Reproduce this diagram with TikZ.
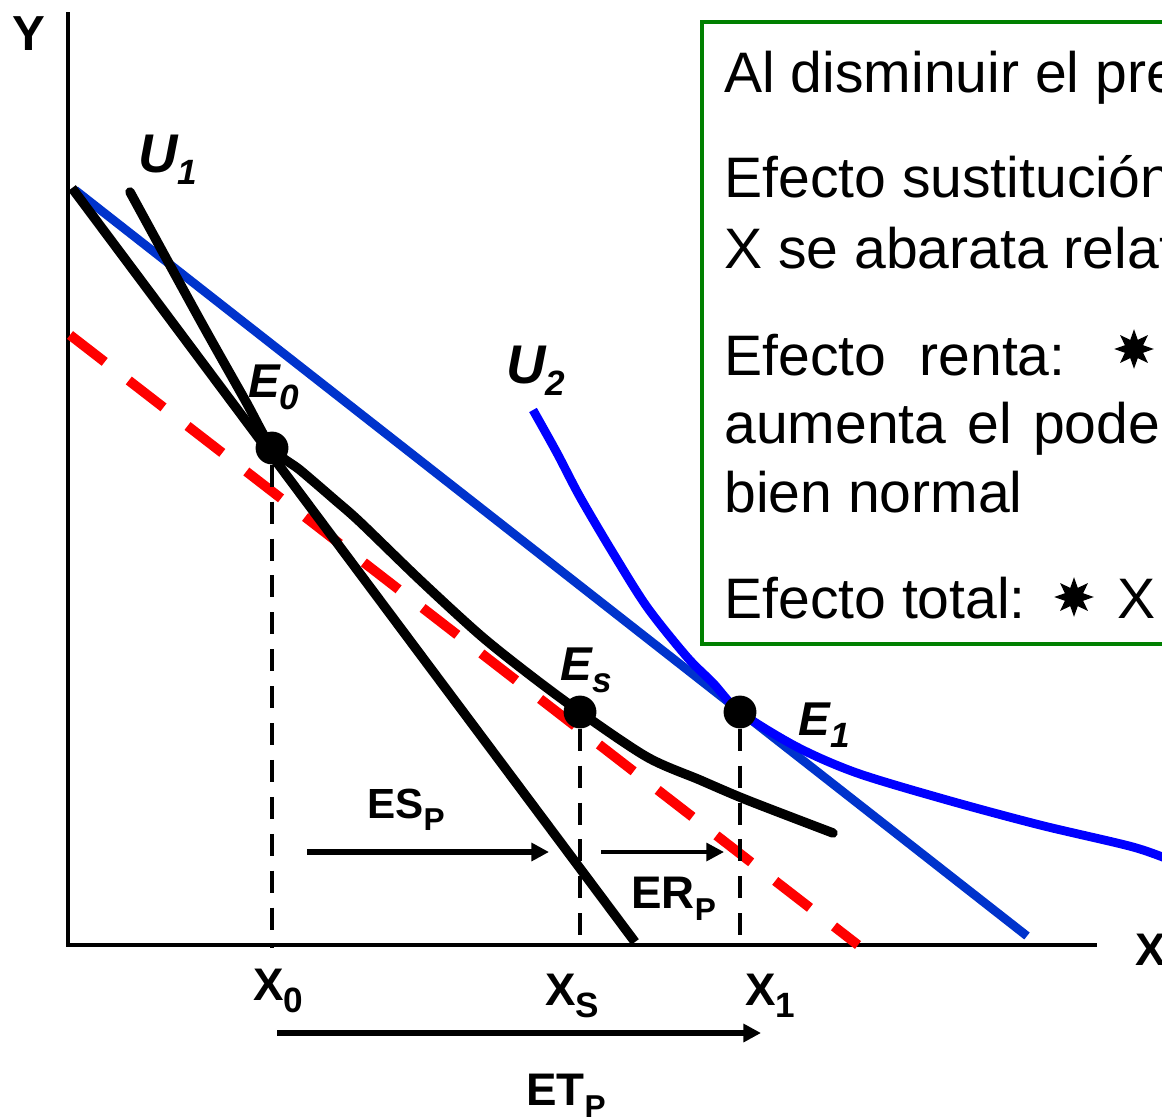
\documentclass[tikz,border=0pt]{standalone}
\usepackage{fontspec}
\setmainfont{Liberation Sans}
\usepackage{tikz}
\usetikzlibrary{
  arrows.meta,
  positioning,
  shapes.geometric
}
\definecolor{budgetblue}{RGB}{0,51,204}
\definecolor{utilblue}{RGB}{0,0,255}
\definecolor{boxgreen}{RGB}{0,128,0}
\newcommand{\lsub}[2][18]{\raisebox{-7pt}{\fontsize{#1}{#1}\selectfont #2}}

\begin{document}
\begin{tikzpicture}[x=0.02cm, y=-0.02cm,
  axis/.style={line width=2.6pt},
  curve/.style={line width=5.4pt, line cap=round, line join=round},
  guide/.style={line width=2.7pt, dash pattern=on 12.5pt off 8.5pt},
  shift/.style={-{Triangle[length=10pt,width=10pt]}, line width=#1},
  dot/.style={circle, fill=black, inner sep=0pt, minimum size=18.7pt},
  lbl/.style={font=\bfseries\fontsize{26}{26}\selectfont, inner sep=0pt, anchor=base west},
  ilbl/.style={font=\bfseries\itshape\fontsize{27}{27}\selectfont, inner sep=0pt, anchor=base west},
  boxtext/.style={font=\fontsize{32.5}{38}\selectfont, inner sep=0pt, anchor=base west},
  starmark/.style={star, star points=8, star point ratio=2, fill=black, inner sep=0pt, minimum size=22.5pt}
]
  \useasboundingbox (0,0) rectangle (1162,1119);
  \clip (0,0) rectangle (1162,1119);

  % Axes
  \coordinate (ytop) at (68,12);
  \coordinate (origin) at (68,945);
  \coordinate (xend) at (1097,945);
  \draw[axis] (ytop) -- (origin) -- (xend);
  \node[lbl, font=\bfseries\fontsize{28}{28}\selectfont] (ylab) at (12,50) {Y};
  \node[lbl] (xlab) at (1135,965) {X};

  % Budget lines
  \coordinate (r0) at (70,335);
  \coordinate (r1) at (858,945);
  \draw[red, line width=5.6pt, dash pattern=on 25pt off 17.3pt] (r0) -- (r1);
  \coordinate (b0) at (75,190);
  \coordinate (b1) at (1027,936);
  \draw[budgetblue, line width=5pt] (b0) -- (b1);
  \coordinate (k0) at (72,188);
  \coordinate (k1) at (635,942);
  \draw[curve, line cap=butt] (k0) -- (k1);

  % Indifference curves
  \draw[curve] plot[smooth, tension=0.5] coordinates {
    (130,192) (200,320) (245,400) (272,448) (300,470) (335,500) (360,522)
    (420,580) (480,635) (530,675) (580,712) (647,757) (700,780)
    (747,800) (833,833)};
  \draw[curve, utilblue, line width=5pt, line cap=butt] plot[smooth, tension=0.5] coordinates {
    (533,410) (557,453) (580,497) (613,553) (647,607) (687,657) (713,683)
    (740,712) (797,747) (857,773) (947,800) (1040,825) (1133,847) (1175,862)};
  \node[ilbl, font=\bfseries\itshape\fontsize{31}{31}\selectfont] (u1) at (138,172) {U\lsub[20]{1}};
  \node[ilbl, font=\bfseries\itshape\fontsize{31}{31}\selectfont] (u2) at (506,383) {U\lsub[20]{2}};

  % Equilibria
  \node[dot] (E0) at (272,448) {};
  \node[dot] (Es) at (580,712) {};
  \node[dot] (E1) at (740,712) {};
  \node[ilbl] (e0lab) at (248,397) {E\lsub[20]{0}};
  \node[ilbl] (eslab) at (560,680) {E\lsub[20]{s}};
  \node[ilbl] (e1lab) at (798,735) {E\lsub[20]{1}};

  % Guides down to the axis
  \coordinate (x0) at (272,948);
  \coordinate (xs) at (580,948);
  \coordinate (x1) at (740,948);
  \draw[guide] (E0) -- (x0);
  \draw[guide] (Es) -- (xs);
  \draw[guide] (E1) -- (x1);
  \node[lbl] (x0lab) at (253,1000) {X\lsub[20]{0}};
  \node[lbl] (xslab) at (545,1005) {X\lsub[20]{S}};
  \node[lbl] (x1lab) at (745,1005) {X\lsub[20]{1}};

  % Effects
  \coordinate (esL) at (307,852);
  \coordinate (esR) at (549,852);
  \draw[shift=2.9pt] (esL) -- (esR);
  \node[lbl, font=\bfseries\fontsize{24}{24}\selectfont] (eslbl) at (367,818) {ES\lsub{P}};
  \coordinate (erL) at (601,852);
  \coordinate (erR) at (724,852);
  \draw[shift=2.3pt] (erL) -- (erR);
  \node[lbl] (erlbl) at (631,908) {ER\lsub{P}};
  \coordinate (etL) at (277,1033);
  \coordinate (etR) at (761,1033);
  \draw[shift=3.2pt] (etL) -- (etR);
  \node[lbl] (etlbl) at (526,1105) {ET\lsub{P}};

  % Text box
  \node[draw=boxgreen, line width=2.3pt, anchor=north west, minimum width=600*0.02cm,
        minimum height=622*0.02cm] (note) at (700,20) {};
  \node[boxtext] (t1) at (724,92) {Al disminuir el precio};
  \node[boxtext] (t2) at (724,197) {Efecto sustitución};
  \node[boxtext] (t3) at (724,268) {X se abarata relativamente};
  \node[boxtext] (t4) at (724,375) {Efecto\hspace{19pt}renta:};
  \node[starmark] (s1) at (1134,349) {};
  \node[boxtext] (t5) at (724,443) {aumenta\hspace{12pt}el\hspace{12pt}poder};
  \node[boxtext] (t6) at (724,512) {bien normal};
  \node[boxtext] (t7) at (724,618) {Efecto total:};
  \node[starmark] (s2) at (1074,597) {};
  \node[boxtext] (t8) at (1117,618) {X};
\end{tikzpicture}
\end{document}
